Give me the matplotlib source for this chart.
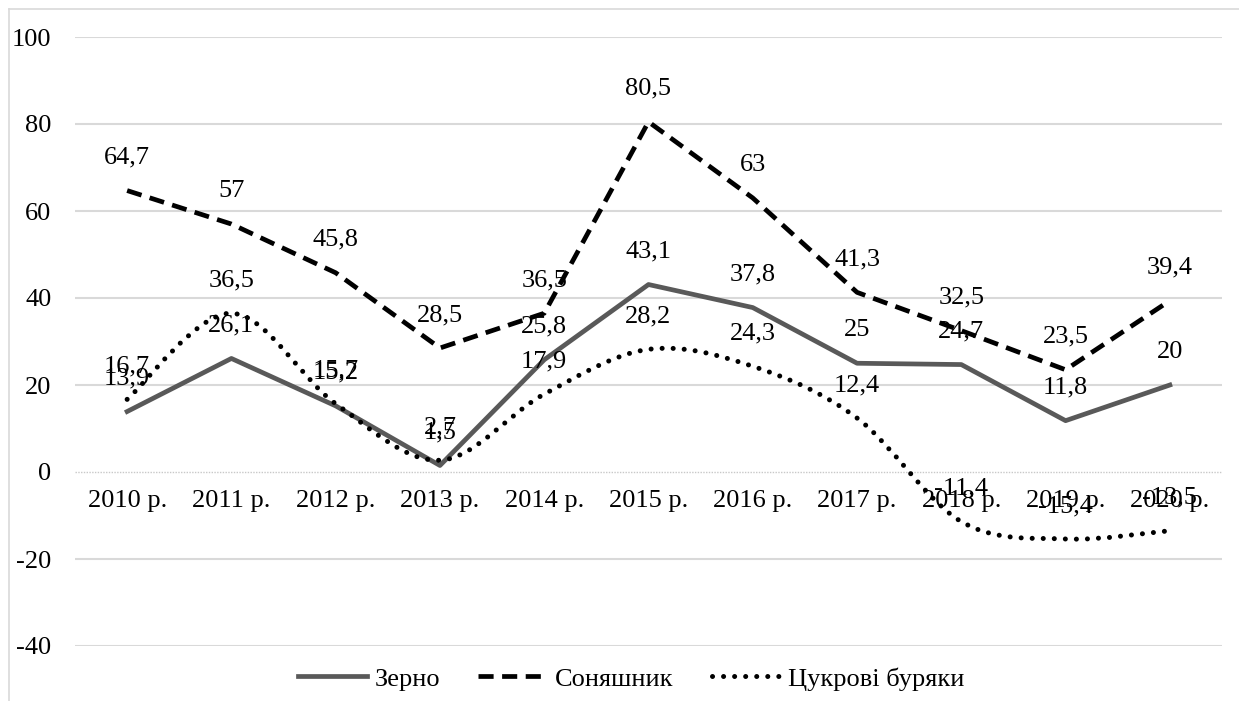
import numpy as np
import matplotlib.pyplot as plt
from matplotlib.path import Path
from matplotlib.patches import PathPatch
from matplotlib.lines import Line2D

years = ['2010 р.', '2011 р.', '2012 р.', '2013 р.', '2014 р.', '2015 р.',
         '2016 р.', '2017 р.', '2018 р.', '2019 р.', '2020 р.']
zerno = [13.9, 26.1, 15.2, 1.5, 25.8, 43.1, 37.8, 25, 24.7, 11.8, 20]
sonyashnyk = [64.7, 57, 45.8, 28.5, 36.5, 80.5, 63, 41.3, 32.5, 23.5, 39.4]
buryaky = [16.7, 36.5, 15.7, 2.7, 17.9, 28.2, 24.3, 12.4, -11.4, -15.4, -13.5]

plt.rcParams['font.family'] = ['Liberation Serif', 'DejaVu Serif']
plt.rcParams['axes.unicode_minus'] = False
FS = 19


def smooth_path(x, y):
    # bezier path through the points (like excel's smoothed line)
    pts = np.column_stack([x, y]).astype(float)
    n = len(pts)
    verts = [pts[0]]
    codes = [Path.MOVETO]
    for i in range(n - 1):
        p0 = pts[max(i - 1, 0)]
        p1 = pts[i]
        p2 = pts[i + 1]
        p3 = pts[min(i + 2, n - 1)]
        c1 = p1 + (p2 - p0) / 6
        c2 = p2 - (p3 - p1) / 6
        verts += [c1, c2, p2]
        codes += [Path.CURVE4] * 3
    return Path(verts, codes)


fig = plt.figure(figsize=(12.39, 7.01), dpi=100)
ax = fig.add_axes([75 / 1239, 55 / 701, 1147 / 1239, 609 / 701])

x = np.arange(len(years))
ax.plot(x, zerno, color='#595959', lw=3.4, solid_joinstyle='round', label='Зерно', zorder=3)
ax.plot(x, sonyashnyk, color='black', lw=3.4, linestyle=(0, (3.2, 1.8)), label='Соняшник', zorder=3)

dots = (0, (0.01, 2.2))
pp = PathPatch(smooth_path(x, buryaky), fill=False, color='black', lw=3.6,
               linestyle=dots, capstyle='round', zorder=3)
ax.add_patch(pp)
ax.plot([], [], color='black', lw=3.6, linestyle=dots, dash_capstyle='round',
        label='Цукрові буряки')

for series in (zerno, sonyashnyk, buryaky):
    for xi, v in zip(x, series):
        txt = ('%g' % v).replace('.', ',')
        ax.annotate(txt, (xi, v), xytext=(0, 33), textcoords='offset pixels',
                    ha='center', va='center', fontsize=FS, zorder=5)

ax.set_xlim(-0.5, len(years) - 0.5)
ax.set_ylim(-40, 100)
ax.set_yticks(range(-40, 101, 20))
ax.set_xticks(x)
ax.set_xticklabels(years)
ax.tick_params(axis='both', length=0, labelsize=FS)
ax.tick_params(axis='x', pad=13)
ax.tick_params(axis='y', pad=17)
for s in ax.spines.values():
    s.set_visible(False)
ax.spines['bottom'].set_position(('data', 0))

for v in range(-40, 101, 20):
    if v == 0:
        ax.axhline(0, color='#c8c8c8', lw=1, linestyle=(0, (1, 1)), zorder=1)
    else:
        ax.axhline(v, color='#d9d9d9', lw=1.5, zorder=1)

ax.legend(loc='center', bbox_to_anchor=(0.485, -0.054), ncol=3, frameon=False,
          fontsize=FS, handlelength=2.6, handletextpad=0.3, columnspacing=1.45)

# chart border
fig.add_artist(Line2D([9 / 1239, 9 / 1239], [0, 1 - 9 / 701], color='#d9d9d9', lw=1.2))
fig.add_artist(Line2D([9 / 1239, 1], [1 - 9 / 701, 1 - 9 / 701], color='#d9d9d9', lw=1.2))

fig.savefig('out.png', dpi=100)
